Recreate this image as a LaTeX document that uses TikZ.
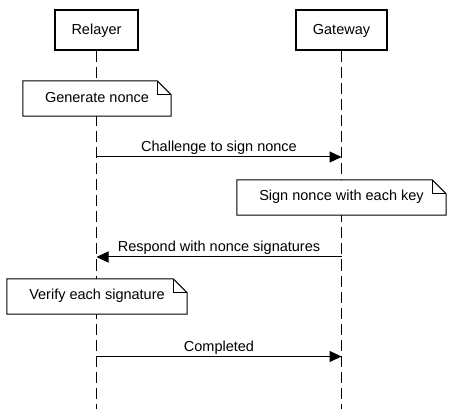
\documentclass[tikz,border=0pt]{standalone}
\usepackage{fontspec}
\setmainfont{Liberation Sans}
\usetikzlibrary{arrows.meta}

\begin{document}
\begin{tikzpicture}[x=1pt,y=-1pt,
  actor/.style={draw,line width=2pt,minimum width=83pt,minimum height=40pt,inner sep=0pt,font=\fontsize{14.5}{17}\selectfont},
  lifeline/.style={line width=1pt,dash pattern=on 11pt off 5pt},
  notebox/.style={inner sep=0pt,minimum height=35pt,font=\fontsize{14.5}{17}\selectfont},
  msg/.style={line width=1pt,-{Triangle[length=12pt,width=11pt]}},
  msglabel/.style={font=\fontsize{14.5}{17}\selectfont,inner sep=0pt,text depth=0pt,above=5pt}]
\useasboundingbox (0,0) rectangle (453,409);

\node[actor] (relayer) at (96.5,30.5) {Relayer};
\node[actor,minimum width=91pt] (gateway) at (341.5,30.5) {Gateway};

\coordinate (rEnd) at (96.5,409);
\coordinate (gEnd) at (341.5,409);
\draw[lifeline] (relayer) -- (rEnd);
\draw[lifeline] (gateway) -- (gEnd);

\node[notebox,minimum width=148pt] (n1) at (97,98.5) {};
\node[notebox,minimum width=209pt] (n2) at (341.5,197.5) {};
\node[notebox,minimum width=180pt] (n3) at (97,296.5) {};

\foreach \n in {n1,n2,n3}{
\draw[line width=1pt,fill=white] (\n.north west) -- ([xshift=-14pt]\n.north east) -- ([yshift=-14pt]\n.north east) -- (\n.south east) -- (\n.south west) -- cycle;
\draw[line width=1pt] ([xshift=-14pt]\n.north east) -- ([xshift=-14pt,yshift=-14pt]\n.north east) -- ([yshift=-14pt]\n.north east);
}
\node[notebox] (t1) at ([yshift=1pt]n1) {Generate nonce};
\node[notebox] (t2) at ([yshift=1pt]n2) {Sign nonce with each key};
\node[notebox] (t3) at ([yshift=1pt]n3) {Verify each signature};

\coordinate (r1) at (96.5,157);
\coordinate (g1) at (341.5,157);
\coordinate (r2) at (96.5,257);
\coordinate (g2) at (341.5,257);
\coordinate (r3) at (96.5,356.5);
\coordinate (g3) at (341.5,356.5);

\draw[msg] (r1) -- node[msglabel] {Challenge to sign nonce} (g1);
\draw[msg] (g2) -- node[msglabel] {Respond with nonce signatures} (r2);
\draw[msg] (r3) -- node[msglabel] {Completed} (g3);
\end{tikzpicture}
\end{document}
